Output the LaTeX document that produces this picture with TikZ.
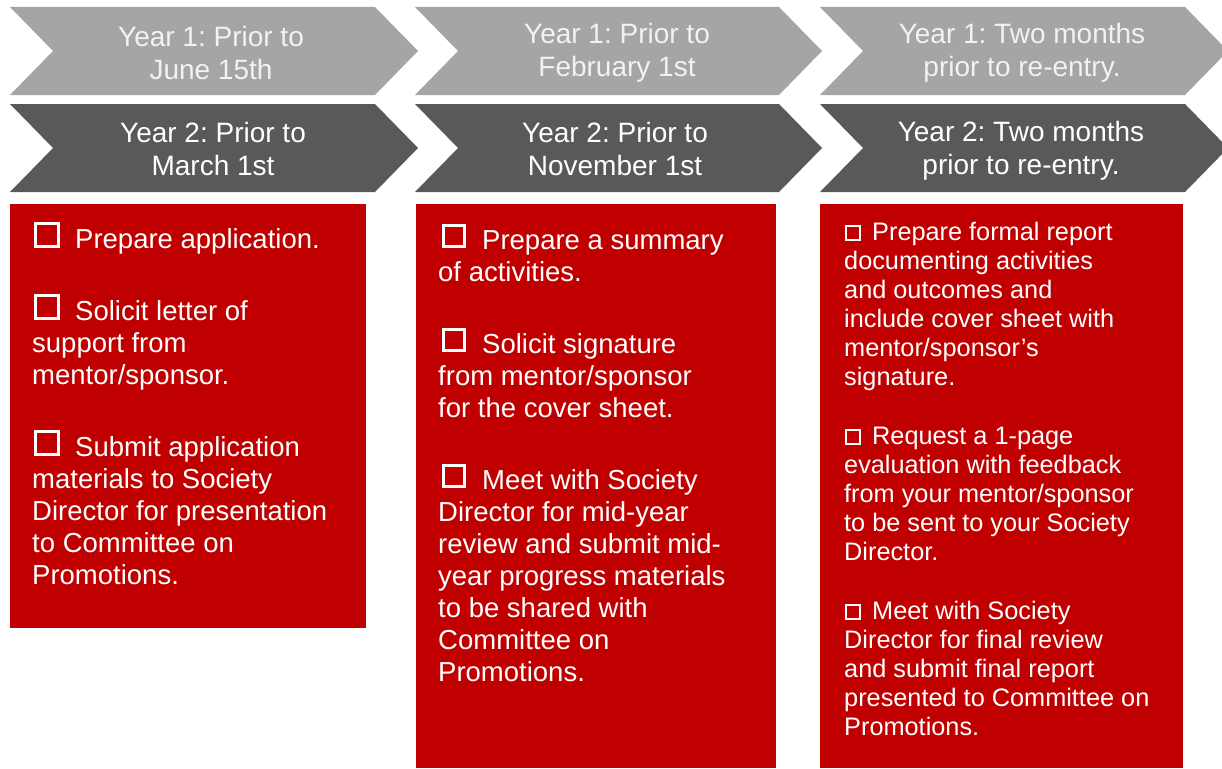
\documentclass[tikz,border=0pt]{standalone}
\usepackage{fontspec}
\setmainfont{Liberation Sans}
\frenchspacing
\definecolor{lightgrey}{HTML}{A5A5A5}
\definecolor{darkgrey}{HTML}{595959}
\definecolor{boxred}{HTML}{C00000}
\definecolor{paletext}{HTML}{F2F2F2}
\newcommand{\chkbox}[3]{{\setlength{\fboxsep}{0pt}\setlength{\fboxrule}{#2}\raisebox{#3}{\fbox{\rule{0pt}{#1}\rule{#1}{0pt}}}}}
\begin{document}
\begin{tikzpicture}[x=1pt,y=-1pt,
	datetext/.style={align=center,inner sep=0pt,font=\fontsize{28}{33}\selectfont},
	tasktext/.style={text=white,align=left,anchor=north west,inner sep=0pt,font=\fontsize{27.5}{32}\selectfont},
	smalltask/.style={tasktext,font=\fontsize{25.3}{29}\selectfont}]
			\useasboundingbox (0,0) rectangle (1222,768);
			\clip (0,0) rectangle (1222,768);
			\fill[lightgrey] (10,7) -- (375,7) -- (418,51) -- (375,95) -- (10,95) -- (53,51) -- cycle;
			\fill[lightgrey] (415,7) -- (779,7) -- (822,51) -- (779,95) -- (415,95) -- (458,51) -- cycle;
			\fill[lightgrey] (820,7) -- (1185,7) -- (1228,51) -- (1185,95) -- (820,95) -- (863,51) -- cycle;
			\fill[darkgrey] (10,104) -- (375,104) -- (418,148) -- (375,192) -- (10,192) -- (53,148) -- cycle;
			\fill[darkgrey] (415,104) -- (779,104) -- (822,148) -- (779,192) -- (415,192) -- (458,148) -- cycle;
			\fill[darkgrey] (820,104) -- (1185,104) -- (1228,148) -- (1185,192) -- (820,192) -- (863,148) -- cycle;
			\node[datetext,text=paletext] (yearoneA) at (211,53) {Year 1: Prior to\\June 15th};
			\node[datetext,text=paletext] (yearoneB) at (617,53) {Year 1: Prior to\\February 1st};
			\node[datetext,text=paletext] (yearoneC) at (1022,53) {Year 1: Two months\\prior to re-entry.};
			\node[datetext,text=white] (yeartwoA) at (213,149) {Year 2: Prior to\\March 1st};
			\node[datetext,text=white] (yeartwoB) at (615,149) {Year 2: Prior to\\November 1st};
			\node[datetext,text=white] (yeartwoC) at (1021,151) {Year 2: Two months\\prior to re-entry.};
			\fill[boxred] (10,204) rectangle (366,628);
			\fill[boxred] (416,204) rectangle (776,768);
			\fill[boxred] (820,204) rectangle (1183,768);
			\node[tasktext] (tasksA) at (32,222) {\hspace{2pt}\chkbox{20pt}{3pt}{3pt}\hspace{15pt}Prepare application.\\[40pt]
				\hspace{2pt}\chkbox{20pt}{3pt}{3pt}\hspace{15pt}Solicit letter of\\support from\\mentor/sponsor.\\[40pt]
				\hspace{2pt}\chkbox{20pt}{3pt}{3pt}\hspace{15pt}Submit application\\materials to Society\\Director for presentation\\to Committee on\\Promotions.};
			\node[tasktext] (tasksB) at (438,224) {\hspace{4pt}\chkbox{18pt}{3pt}{4pt}\hspace{16pt}Prepare a summary\\of activities.\\[40pt]
				\hspace{4pt}\chkbox{18pt}{3pt}{4pt}\hspace{16pt}Solicit signature\\from mentor/sponsor\\for the cover sheet.\\[40pt]
				\hspace{4pt}\chkbox{18pt}{3pt}{4pt}\hspace{16pt}Meet with Society\\Director for mid-year\\review and submit mid-\\year progress materials\\to be shared with\\Committee on\\Promotions.};
			\node[smalltask] (tasksC) at (844,222) {\hspace{1pt}\chkbox{12pt}{2pt}{2pt}\hspace{11pt}Prepare formal report\\documenting activities\\and outcomes and\\include cover sheet with\\mentor/sponsor’s\\signature.\\[30pt]
				\hspace{1pt}\chkbox{12pt}{2pt}{2pt}\hspace{11pt}Request a 1-page\\evaluation with feedback\\from your mentor/sponsor\\to be sent to your Society\\Director.\\[30pt]
				\hspace{1pt}\chkbox{12pt}{2pt}{2pt}\hspace{11pt}Meet with Society\\Director for final review\\and submit final report\\presented to Committee on\\Promotions.};
\end{tikzpicture}
\end{document}
